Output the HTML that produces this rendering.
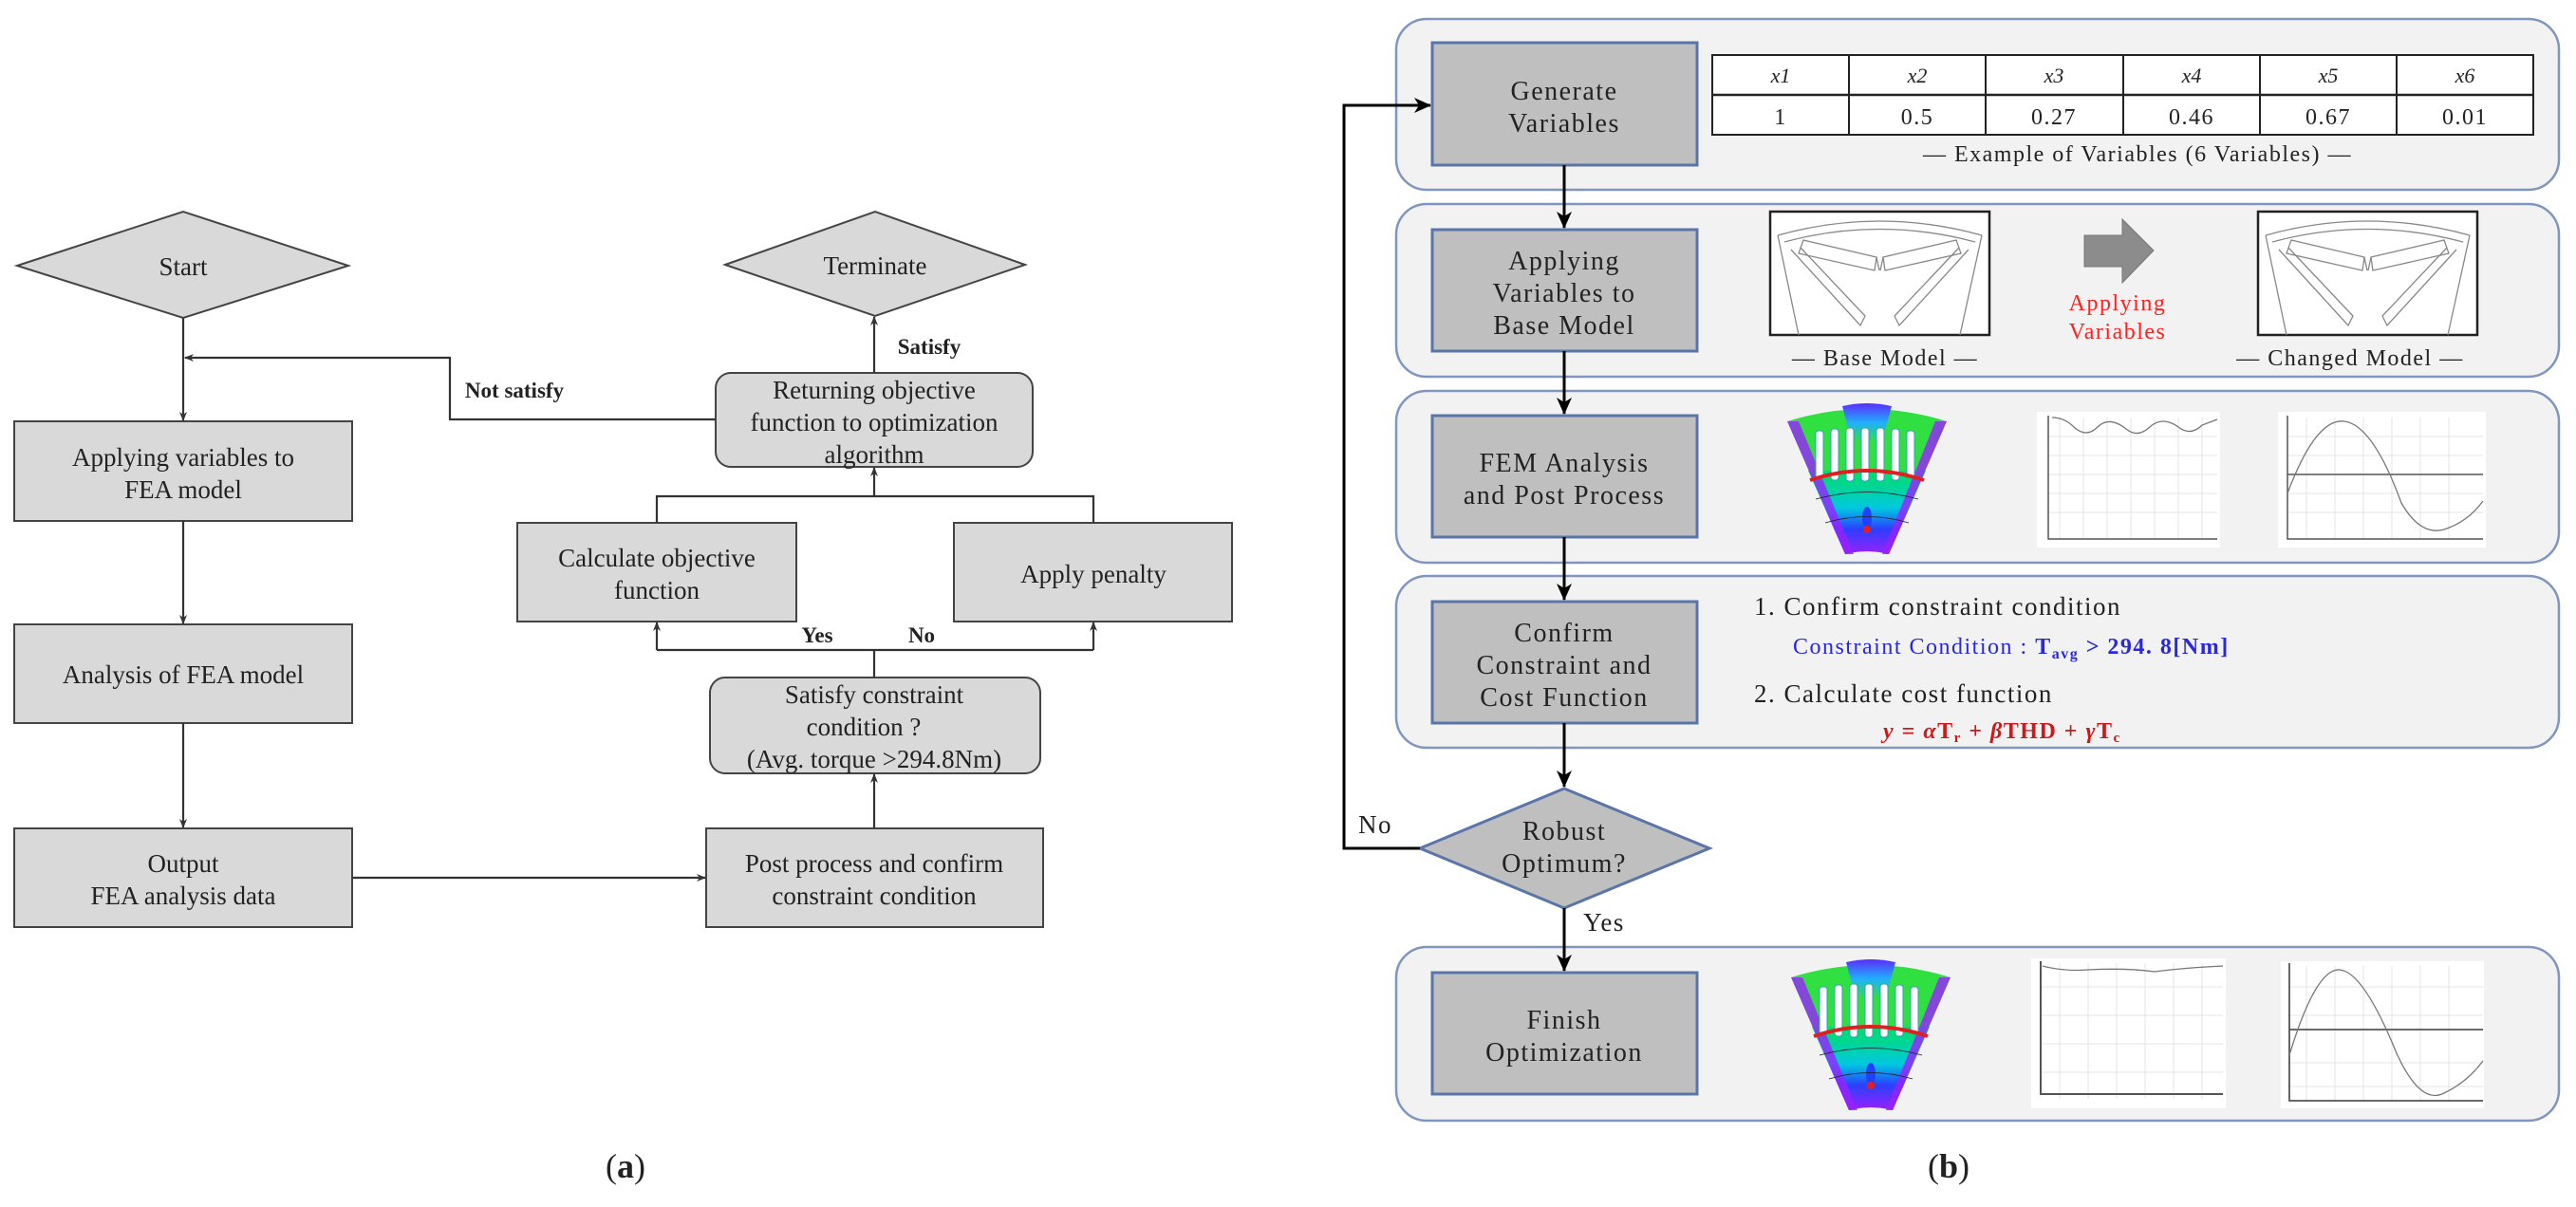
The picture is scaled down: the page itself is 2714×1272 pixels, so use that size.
<!DOCTYPE html>
<html><head><meta charset="utf-8"><style>
html,body{margin:0;padding:0;background:#fff;}
svg{display:block;}
.s{font-family:"Liberation Serif",serif;fill:#222;}
.r{font-family:"Liberation Serif",serif;fill:#222;letter-spacing:1.5px;}
</style></head><body>
<svg width="2714" height="1272" viewBox="0 0 2714 1272" xmlns="http://www.w3.org/2000/svg">
<defs>
<marker id="a1" markerWidth="10" markerHeight="10" refX="9" refY="5" orient="auto" markerUnits="userSpaceOnUse"><path d="M0,1 L10,5 L0,9 L3,5 Z" fill="#333"/></marker>
<marker id="a2" markerWidth="18" markerHeight="16" refX="17" refY="8" orient="auto" markerUnits="userSpaceOnUse"><path d="M0,0 L18,8 L0,16 L5,8 Z" fill="#000"/></marker>
<linearGradient id="fanbot" x1="0" y1="0" x2="0" y2="1"><stop offset="0" stop-color="#00e060"/><stop offset="0.45" stop-color="#00c8e0"/><stop offset="0.7" stop-color="#2a40ff"/><stop offset="1" stop-color="#9a20ff"/></linearGradient>
<linearGradient id="fantop" x1="0" y1="0" x2="0" y2="1"><stop offset="0" stop-color="#5a2cff"/><stop offset="0.5" stop-color="#20b0ff"/><stop offset="1" stop-color="#30e040"/></linearGradient>
<g id="fan">
 <path d="M0,18 Q84,-8 168,18 L107,158 Q84,152 61,158 Z" fill="#30e040"/>
 <path d="M58,2 Q84,-4 110,2 L100,40 L68,40 Z" fill="url(#fantop)"/>
 <path d="M22,70 L146,70 L107,158 Q84,152 61,158 Z" fill="url(#fanbot)"/>
 <path d="M0,18 L12,18 L70,158 L61,158 Z" fill="#9a20ff" opacity="0.8"/>
 <path d="M168,18 L156,18 L100,158 L107,158 Z" fill="#9a20ff" opacity="0.8"/>
 <g fill="#fff" stroke="#30a0c0" stroke-width="1">
  <rect x="30" y="28" width="8" height="50" rx="3"/><rect x="46" y="26" width="8" height="54" rx="3"/><rect x="62" y="25" width="8" height="56" rx="3"/><rect x="78" y="25" width="8" height="56" rx="3"/><rect x="94" y="25" width="8" height="56" rx="3"/><rect x="110" y="26" width="8" height="54" rx="3"/><rect x="126" y="28" width="8" height="50" rx="3"/>
 </g>
 <path d="M24,80 Q84,60 144,80" fill="none" stroke="#e02020" stroke-width="4"/>
 <ellipse cx="84" cy="120" rx="5" ry="12" fill="#2040ff"/><circle cx="84" cy="132" r="4" fill="#e02020"/>
 <path d="M30,100 Q84,85 138,100 M40,125 Q84,112 128,125" fill="none" stroke="#222" stroke-width="0.8"/>
</g>
<g id="motor">
 <rect x="0" y="0" width="231" height="130" fill="#fff" stroke="#222" stroke-width="2.5"/>
 <g fill="none" stroke="#888" stroke-width="1.3">
  <path d="M8,25 Q115,-5 223,25"/><path d="M15,32 Q115,5 216,32"/>
  <path d="M8,25 L30,130 M223,25 L200,130"/>
  <path d="M35,30 L112,48 L110,62 L30,44 Z"/><path d="M196,30 L119,48 L121,62 L201,44 Z"/>
  <path d="M22,40 L95,120 L100,110 L32,38"/><path d="M209,40 L136,120 L131,110 L199,38"/>
  <path d="M112,48 L115,62 M119,48 L116,62"/>
 </g>
</g>
</defs>

<!-- ========== (a) ========== -->
<g stroke="#444" stroke-width="2" fill="#d9d9d9">
 <polygon points="18,280 193,223 367,280 193,335"/>
 <polygon points="764,279 922,223 1080,279 922,333"/>
 <rect x="15" y="444" width="356" height="105"/>
 <rect x="15" y="658" width="356" height="104"/>
 <rect x="15" y="873" width="356" height="104"/>
 <rect x="744" y="873" width="355" height="104"/>
 <rect x="748" y="714" width="348" height="101" rx="16"/>
 <rect x="545" y="551" width="294" height="104"/>
 <rect x="1005" y="551" width="293" height="104"/>
 <rect x="754" y="393" width="334" height="99" rx="16"/>
</g>
<g stroke="#333" stroke-width="2.2" fill="none">
 <line x1="193" y1="335" x2="193" y2="443" marker-end="url(#a1)"/>
 <line x1="193" y1="549" x2="193" y2="657" marker-end="url(#a1)"/>
 <line x1="193" y1="762" x2="193" y2="872" marker-end="url(#a1)"/>
 <line x1="371" y1="925" x2="743" y2="925" marker-end="url(#a1)"/>
 <line x1="921" y1="873" x2="921" y2="816" marker-end="url(#a1)"/>
 <polyline points="921,714 921,685"/>
 <polyline points="692,685 1152,685"/>
 <line x1="692" y1="685" x2="692" y2="656" marker-end="url(#a1)"/>
 <line x1="1152" y1="685" x2="1152" y2="656" marker-end="url(#a1)"/>
 <polyline points="692,551 692,523 1152,523 1152,551"/>
 <line x1="921" y1="523" x2="921" y2="493" marker-end="url(#a1)"/>
 <line x1="921" y1="393" x2="921" y2="334" marker-end="url(#a1)"/>
 <polyline points="754,442 474,442 474,377 195,377" marker-end="url(#a1)"/>
</g>
<g class="s" font-size="27" text-anchor="middle">
 <text x="193" y="290">Start</text>
 <text x="922" y="289">Terminate</text>
 <text x="193" y="491">Applying  variables  to</text>
 <text x="193" y="525">FEA model</text>
 <text x="193" y="720">Analysis  of FEA  model</text>
 <text x="193" y="919">Output</text>
 <text x="193" y="953">FEA analysis  data</text>
 <text x="921" y="919">Post  process  and  confirm</text>
 <text x="921" y="953">constraint  condition</text>
 <text x="921" y="741">Satisfy  constraint</text>
 <text x="910" y="775">condition  ?</text>
 <text x="921" y="809">(Avg.  torque  &gt;294.8Nm)</text>
 <text x="692" y="597">Calculate  objective</text>
 <text x="692" y="631">function</text>
 <text x="1152" y="614">Apply  penalty</text>
 <text x="921" y="420">Returning  objective</text>
 <text x="921" y="454">function  to  optimization</text>
 <text x="921" y="488">algorithm</text>
</g>
<g class="s" font-size="23" font-weight="bold" text-anchor="middle">
 <text x="542" y="419">Not satisfy</text>
 <text x="979" y="373">Satisfy</text>
 <text x="861" y="677">Yes</text>
 <text x="971" y="677">No</text>
</g>
<text class="s" x="659" y="1241" font-size="36" text-anchor="middle">(<tspan font-weight="bold">a</tspan>)</text>

<!-- ========== (b) ========== -->
<g fill="#f2f2f2" stroke="#8096c0" stroke-width="2.5">
 <rect x="1471" y="20" width="1225" height="180" rx="32"/>
 <rect x="1471" y="215" width="1225" height="182" rx="32"/>
 <rect x="1471" y="412" width="1225" height="181" rx="32"/>
 <rect x="1471" y="607" width="1225" height="181" rx="32"/>
 <rect x="1471" y="998" width="1225" height="183" rx="32"/>
</g>
<g fill="#bfbfbf" stroke="#5a75a8" stroke-width="3">
 <rect x="1509" y="45" width="279" height="129"/>
 <rect x="1509" y="242" width="279" height="128"/>
 <rect x="1509" y="438" width="279" height="128"/>
 <rect x="1509" y="634" width="279" height="128"/>
 <rect x="1509" y="1025" width="279" height="128"/>
 <polygon points="1496,894 1648,831 1801,894 1648,957"/>
</g>
<g stroke="#000" stroke-width="3" fill="none">
 <line x1="1648" y1="174" x2="1648" y2="240" marker-end="url(#a2)"/>
 <line x1="1648" y1="370" x2="1648" y2="436" marker-end="url(#a2)"/>
 <line x1="1648" y1="566" x2="1648" y2="632" marker-end="url(#a2)"/>
 <line x1="1648" y1="762" x2="1648" y2="829" marker-end="url(#a2)"/>
 <line x1="1648" y1="957" x2="1648" y2="1023" marker-end="url(#a2)"/>
 <polyline points="1496,894 1416,894 1416,111 1507,111" marker-end="url(#a2)"/>
</g>
<g class="r" font-size="28" text-anchor="middle">
 <text x="1648" y="105">Generate</text>
 <text x="1648" y="139">Variables</text>
 <text x="1648" y="284">Applying</text>
 <text x="1648" y="318">Variables to</text>
 <text x="1648" y="352">Base Model</text>
 <text x="1648" y="497">FEM Analysis</text>
 <text x="1648" y="531">and Post Process</text>
 <text x="1648" y="676">Confirm</text>
 <text x="1648" y="710">Constraint and</text>
 <text x="1648" y="744">Cost Function</text>
 <text x="1648" y="885">Robust</text>
 <text x="1648" y="919">Optimum?</text>
 <text x="1648" y="1084">Finish</text>
 <text x="1648" y="1118">Optimization</text>
</g>
<text class="r" x="1449" y="878" font-size="27" text-anchor="middle">No</text>
<text class="r" x="1690" y="981" font-size="27" text-anchor="middle">Yes</text>

<!-- table -->
<g stroke="#222" stroke-width="2" fill="#fff">
 <rect x="1804" y="58" width="865" height="84"/>
</g>
<g stroke="#222" stroke-width="2">
 <line x1="1804" y1="100" x2="2669" y2="100" stroke-width="2.5"/>
 <line x1="1948" y1="58" x2="1948" y2="142"/><line x1="2092" y1="58" x2="2092" y2="142"/>
 <line x1="2237" y1="58" x2="2237" y2="142"/><line x1="2381" y1="58" x2="2381" y2="142"/>
 <line x1="2525" y1="58" x2="2525" y2="142"/>
</g>
<g class="s" font-size="22" text-anchor="middle">
 <g font-style="italic"><text x="1876" y="87">x1</text><text x="2020" y="87">x2</text><text x="2164" y="87">x3</text><text x="2309" y="87">x4</text><text x="2453" y="87">x5</text><text x="2597" y="87">x6</text></g>
 <g class="r" font-size="24"><text x="1876" y="131">1</text><text x="2020" y="131">0.5</text><text x="2164" y="131">0.27</text><text x="2309" y="131">0.46</text><text x="2453" y="131">0.67</text><text x="2597" y="131">0.01</text></g>
</g>
<text class="r" x="2252" y="170" font-size="24" text-anchor="middle">— Example of Variables (6 Variables) —</text>

<!-- models -->
<use href="#motor" x="1865" y="223"/>
<use href="#motor" x="2379" y="223"/>
<polygon points="2196,248 2236,248 2236,231 2269,264 2236,298 2236,281 2196,281" fill="#8c8c8c" stroke="#777"/>
<text class="r" x="2231" y="327" font-size="24" fill="#ff2020" style="fill:#ff2020" text-anchor="middle">Applying</text>
<text class="r" x="2231" y="357" font-size="24" style="fill:#ff2020" text-anchor="middle">Variables</text>
<text class="r" x="1986" y="385" font-size="24" text-anchor="middle">— Base Model —</text>
<text class="r" x="2476" y="385" font-size="24" text-anchor="middle">— Changed Model —</text>

<!-- FEM row -->
<use href="#fan" x="1883" y="426"/>
<g>
 <rect x="2146" y="434" width="193" height="143" fill="#fff"/>
 <g stroke="#e4e4e4" stroke-width="1">
  <path d="M2170,440V568M2195,440V568M2220,440V568M2245,440V568M2270,440V568M2295,440V568M2320,440V568M2158,460H2336M2158,480H2336M2158,500H2336M2158,520H2336M2158,540H2336"/>
 </g>
 <path d="M2158,438V568H2336" fill="none" stroke="#555" stroke-width="1.5"/>
 <path d="M2162,440 Q2175,440 2185,450 Q2198,462 2210,450 Q2222,438 2240,452 Q2252,462 2265,450 Q2278,438 2295,450 Q2308,460 2320,448 L2336,442" fill="none" stroke="#777" stroke-width="1.3"/>
 <rect x="2400" y="434" width="219" height="143" fill="#fff"/>
 <g stroke="#e4e4e4" stroke-width="1">
  <path d="M2430,440V568M2460,440V568M2490,440V568M2520,440V568M2550,440V568M2580,440V568M2410,460H2616M2410,480H2616M2410,520H2616M2410,540H2616"/>
 </g>
 <path d="M2410,438V568H2616M2410,500H2616" fill="none" stroke="#555" stroke-width="1.5"/>
 <path d="M2410,520 Q2440,440 2470,444 Q2500,448 2530,530 Q2550,565 2575,558 Q2600,550 2616,528" fill="none" stroke="#777" stroke-width="1.3"/>
</g>

<!-- Confirm texts -->
<text class="r" x="1848" y="648" font-size="27">1. Confirm constraint condition</text>
<text class="r" x="1889" y="689" font-size="24" style="fill:#2828e0">Constraint Condition : <tspan font-weight="bold">T<tspan font-size="16" dy="5">avg</tspan><tspan dy="-5"> &gt; 294. 8[Nm]</tspan></tspan></text>
<text class="r" x="1848" y="740" font-size="27">2. Calculate cost function</text>
<text class="r" x="1984" y="778" font-size="24" font-weight="bold" style="fill:#d01818"><tspan font-style="italic">y</tspan> = <tspan font-style="italic">α</tspan>T<tspan font-size="15" dy="4">r</tspan><tspan dy="-4"> + </tspan><tspan font-style="italic">β</tspan>THD + <tspan font-style="italic">γ</tspan>T<tspan font-size="15" dy="4">c</tspan></text>

<!-- Finish row -->
<use href="#fan" x="1887" y="1012"/>
<rect x="2140" y="1010" width="205" height="158" fill="#fff"/>
<g stroke="#e4e4e4" stroke-width="1">
 <path d="M2170,1015V1158M2200,1015V1158M2230,1015V1158M2260,1015V1158M2290,1015V1158M2320,1015V1158M2150,1040H2342M2150,1070H2342M2150,1100H2342M2150,1130H2342"/>
</g>
<path d="M2150,1013V1153H2342" fill="none" stroke="#555" stroke-width="2"/>
<path d="M2152,1018 Q2175,1024 2200,1022 Q2240,1020 2270,1024 Q2300,1020 2342,1018" fill="none" stroke="#777" stroke-width="1.3"/>
<rect x="2403" y="1013" width="214" height="155" fill="#fff"/>
<g stroke="#e4e4e4" stroke-width="1">
 <path d="M2430,1018V1160M2460,1018V1160M2490,1018V1160M2520,1018V1160M2550,1018V1160M2580,1018V1160M2410,1040H2616M2410,1070H2616M2410,1120H2616M2410,1145H2616"/>
</g>
<path d="M2412,1015V1160H2616M2412,1085H2616" fill="none" stroke="#555" stroke-width="1.8"/>
<path d="M2412,1112 Q2440,1020 2465,1022 Q2490,1024 2525,1110 Q2550,1165 2575,1152 Q2600,1140 2616,1118" fill="none" stroke="#777" stroke-width="1.3"/>

<text class="s" x="2053" y="1241" font-size="36" text-anchor="middle">(<tspan font-weight="bold">b</tspan>)</text>
</svg>
</body></html>
